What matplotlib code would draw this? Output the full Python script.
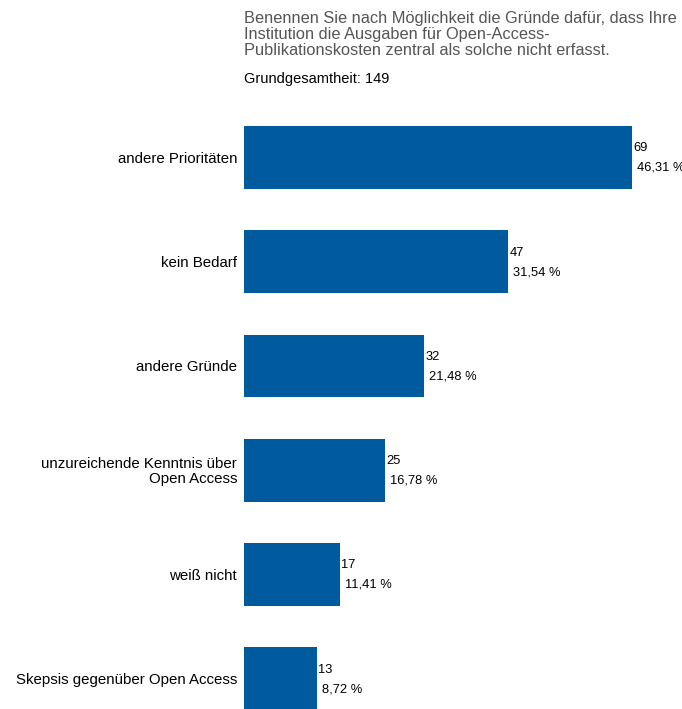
import matplotlib.pyplot as plt
import numpy as np

plt.rcParams["font.family"] = ["Liberation Sans", "DejaVu Sans"]

categories = [
    "andere Prioritäten",
    "kein Bedarf",
    "andere Gründe",
    "unzureichende Kenntnis über\nOpen Access",
    "weiß nicht",
    "Skepsis gegenüber Open Access",
]
counts = [69, 47, 32, 25, 17, 13]
percents = ["46,31 %", "31,54 %", "21,48 %", "16,78 %", "11,41 %", "8,72 %"]
total = 149

W, H = 682, 709
fig = plt.figure(figsize=(W / 100, H / 100), dpi=100)
ax = fig.add_axes([244 / W, 0, 1 - 244 / W, 1])

y = np.arange(len(categories))
ax.barh(y, counts, height=0.6, color="#005a9e")
ax.set_xlim(0, (W - 244) / 5.623)
ax.set_ylim(5.29, -1.51)
ax.axis("off")

for i, (c, p) in enumerate(zip(counts, percents)):
    ax.annotate(str(c), (c, i), xytext=(1, 6.5), textcoords="offset points",
                ha="left", va="center", fontsize=9.3, color="black")
    ax.annotate(p, (c, i), xytext=(3.6, -7.5), textcoords="offset points",
                ha="left", va="center", fontsize=9.3, color="black",
                annotation_clip=False)
    ax.annotate(categories[i], (0, i), xytext=(-5, -1), textcoords="offset points",
                ha="right", va="center", fontsize=10.8, color="black",
                multialignment="right", linespacing=1.08, annotation_clip=False)

fig.text(244 / W, 1 - 11 / H,
         "Benennen Sie nach Möglichkeit die Gründe dafür, dass Ihre\n"
         "Institution die Ausgaben für Open-Access-\n"
         "Publikationskosten zentral als solche nicht erfasst.",
         ha="left", va="top", fontsize=11.8, color="#555555", linespacing=1.1)
fig.text(244 / W, 1 - 79 / H, f"Grundgesamtheit: {total}",
         ha="left", va="center", fontsize=10.5, color="black")

fig.savefig("out.png", dpi=100)
